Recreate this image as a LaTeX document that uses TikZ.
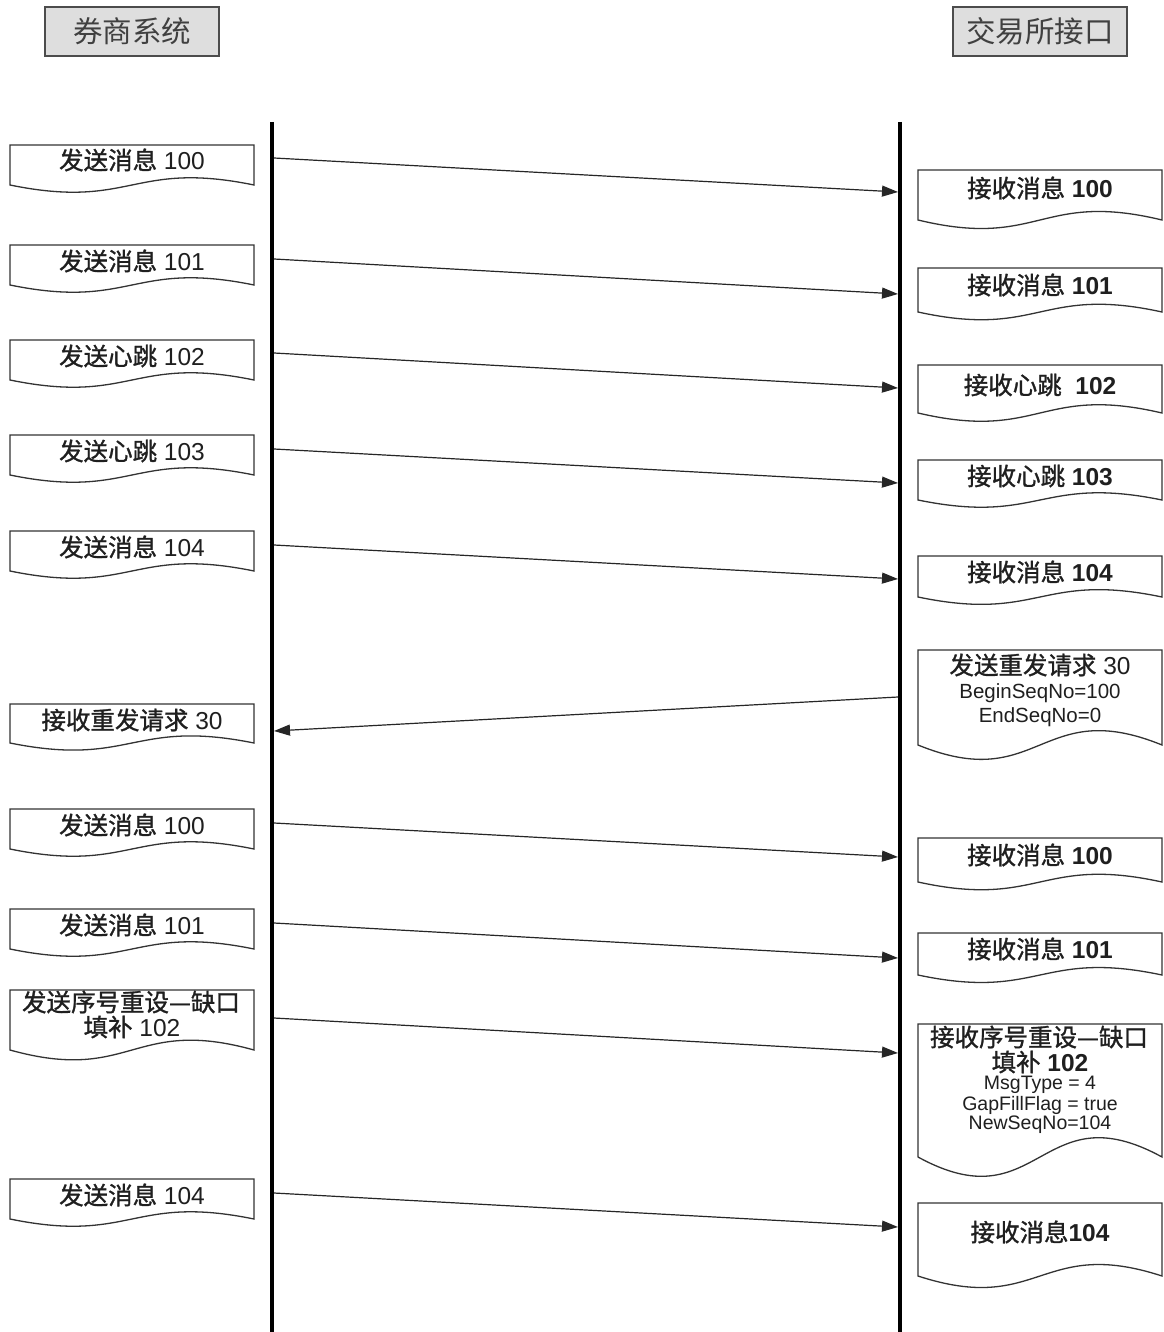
\documentclass[tikz,border=0pt]{standalone}
\usepackage{fontspec}
\setmainfont{Liberation Sans}
\newfontfamily\cjkh{Noto Sans CJK SC}
\newfontfamily\cjk{Noto Sans CJK SC}[FakeBold=1.2]
\usetikzlibrary{arrows.meta}
\newcommand{\docbox}[4]{%
  \pgfmathsetmacro\docd{0.45*(#4-#2)+7}%
  \draw[docline] (#1,#2) -- (#3,#2) -- (#3,#4) .. controls ({(#1+#3)/2},{#4-\docd}) and ({(#1+#3)/2},{#4+\docd}) .. (#1,#4) -- cycle;}
\begin{document}
\begin{tikzpicture}[x=1pt,y=-1pt,
  docline/.style={draw=black!80, line width=1.3pt, fill=white},
  lbl/.style={inner sep=0pt, font=\fontsize{24.5}{27}\selectfont, text=black!88},
  small/.style={inner sep=0pt, font=\fontsize{19.5}{21}\selectfont, text=black!88},
  smallb/.style={inner sep=0pt, font=\fontsize{20.5}{22}\selectfont, text=black!88},
  head/.style={draw=black!70, line width=1.6pt, fill=black!13, minimum width=174pt, minimum height=49pt, inner sep=0pt, font=\cjkh\fontsize{29.5}{32}\selectfont, text=black!75},
  life/.style={line width=4pt, black},
  msg/.style={line width=1.2pt, black!85, -{Triangle[length=16pt,width=11pt]}}]

\useasboundingbox (0,0) rectangle (1163,1332);
\fill[white] (0,0) rectangle (1163,1332);

% headers
\node[head] (hl) at (132,31.5) {券商系统};
\node[head] (hr) at (1040,31.5) {交易所接口};

% lifelines
\coordinate (llt) at (272,122); \coordinate (llb) at (272,1332);
\coordinate (rlt) at (900,122); \coordinate (rlb) at (900,1332);
\draw[life] (llt) -- (llb);
\draw[life] (rlt) -- (rlb);

% left boxes
\docbox{10}{145}{254}{185}
\node[lbl] (l1) at (132,160) {{\cjk 发送消息} 100};
\docbox{10}{245}{254}{285}
\node[lbl] (l2) at (132,261) {{\cjk 发送消息} 101};
\docbox{10}{340}{254}{380}
\node[lbl] (l3) at (132,356) {{\cjk 发送心跳} 102};
\docbox{10}{435}{254}{475}
\node[lbl] (l4) at (132,451) {{\cjk 发送心跳} 103};
\docbox{10}{531}{254}{571}
\node[lbl] (l5) at (132,547) {{\cjk 发送消息} 104};
\docbox{10}{704}{254}{743}
\node[lbl] (l6) at (132,720) {{\cjk 接收重发请求} 30};
\docbox{10}{809}{254}{849}
\node[lbl] (l7) at (132,825) {{\cjk 发送消息} 100};
\docbox{10}{909}{254}{949}
\node[lbl] (l8) at (132,925) {{\cjk 发送消息} 101};
\docbox{10}{990}{254}{1050}
\node[lbl] (l9a) at (131,1002) {\cjk 发送序号重设—缺口};
\node[lbl] (l9b) at (132,1027) {{\cjk 填补} 102};
\docbox{10}{1179}{254}{1219}
\node[lbl] (l10) at (132,1195) {{\cjk 发送消息} 104};

% right boxes
\docbox{918}{170}{1162}{220}
\node[lbl] (r1) at (1040,188) {{\cjk 接收消息} \textbf{100}};
\docbox{918}{268}{1162}{312}
\node[lbl] (r2) at (1040,285) {{\cjk 接收消息} \textbf{101}};
\docbox{918}{365}{1162}{413}
\node[lbl] (r3) at (1040,385) {{\cjk 接收心跳}\ \ \textbf{102}};
\docbox{918}{460}{1162}{500}
\node[lbl] (r4) at (1040,476) {{\cjk 接收心跳} \textbf{103}};
\docbox{918}{556}{1162}{597}
\node[lbl] (r5) at (1040,572) {{\cjk 接收消息} \textbf{104}};
\docbox{918}{650}{1162}{745}
\node[lbl] (r6a) at (1040,665) {{\cjk 发送重发请求} 30};
\node[smallb] (r6b) at (1040,693) {BeginSeqNo=100};
\node[smallb] (r6c) at (1040,717) {EndSeqNo=0};
\docbox{918}{838}{1162}{882}
\node[lbl] (r7) at (1040,855) {{\cjk 接收消息} \textbf{100}};
\docbox{918}{933}{1162}{975}
\node[lbl] (r8) at (1040,949) {{\cjk 接收消息} \textbf{101}};
\docbox{918}{1024}{1162}{1157}
\node[lbl] (r9a) at (1039,1037) {\cjk 接收序号重设—缺口};
\node[lbl] (r9b) at (1040,1062) {{\cjk 填补} \textbf{102}};
\node[small] (r9c) at (1040,1085) {MsgType = 4};
\node[small] (r9d) at (1040,1105) {GapFillFlag = true};
\node[small] (r9e) at (1040,1125) {NewSeqNo=104};
\docbox{918}{1203}{1162}{1276}
\node[lbl] (r10) at (1040,1232) {{\cjk 接收消息}\textbf{104}};

% messages
\coordinate (a1s) at (274,158);  \coordinate (a1e) at (898,192);
\coordinate (a2s) at (274,259);  \coordinate (a2e) at (898,294);
\coordinate (a3s) at (274,353);  \coordinate (a3e) at (898,388);
\coordinate (a4s) at (274,449);  \coordinate (a4e) at (898,483);
\coordinate (a5s) at (274,545);  \coordinate (a5e) at (898,579);
\coordinate (a6s) at (898,697);  \coordinate (a6e) at (274,731);
\coordinate (a7s) at (274,823);  \coordinate (a7e) at (898,857);
\coordinate (a8s) at (274,923);  \coordinate (a8e) at (898,958);
\coordinate (a9s) at (274,1018); \coordinate (a9e) at (898,1053);
\coordinate (a10s) at (274,1193); \coordinate (a10e) at (898,1227);
\foreach \i in {1,...,10} \draw[msg] (a\i s) -- (a\i e);
\end{tikzpicture}
\end{document}
